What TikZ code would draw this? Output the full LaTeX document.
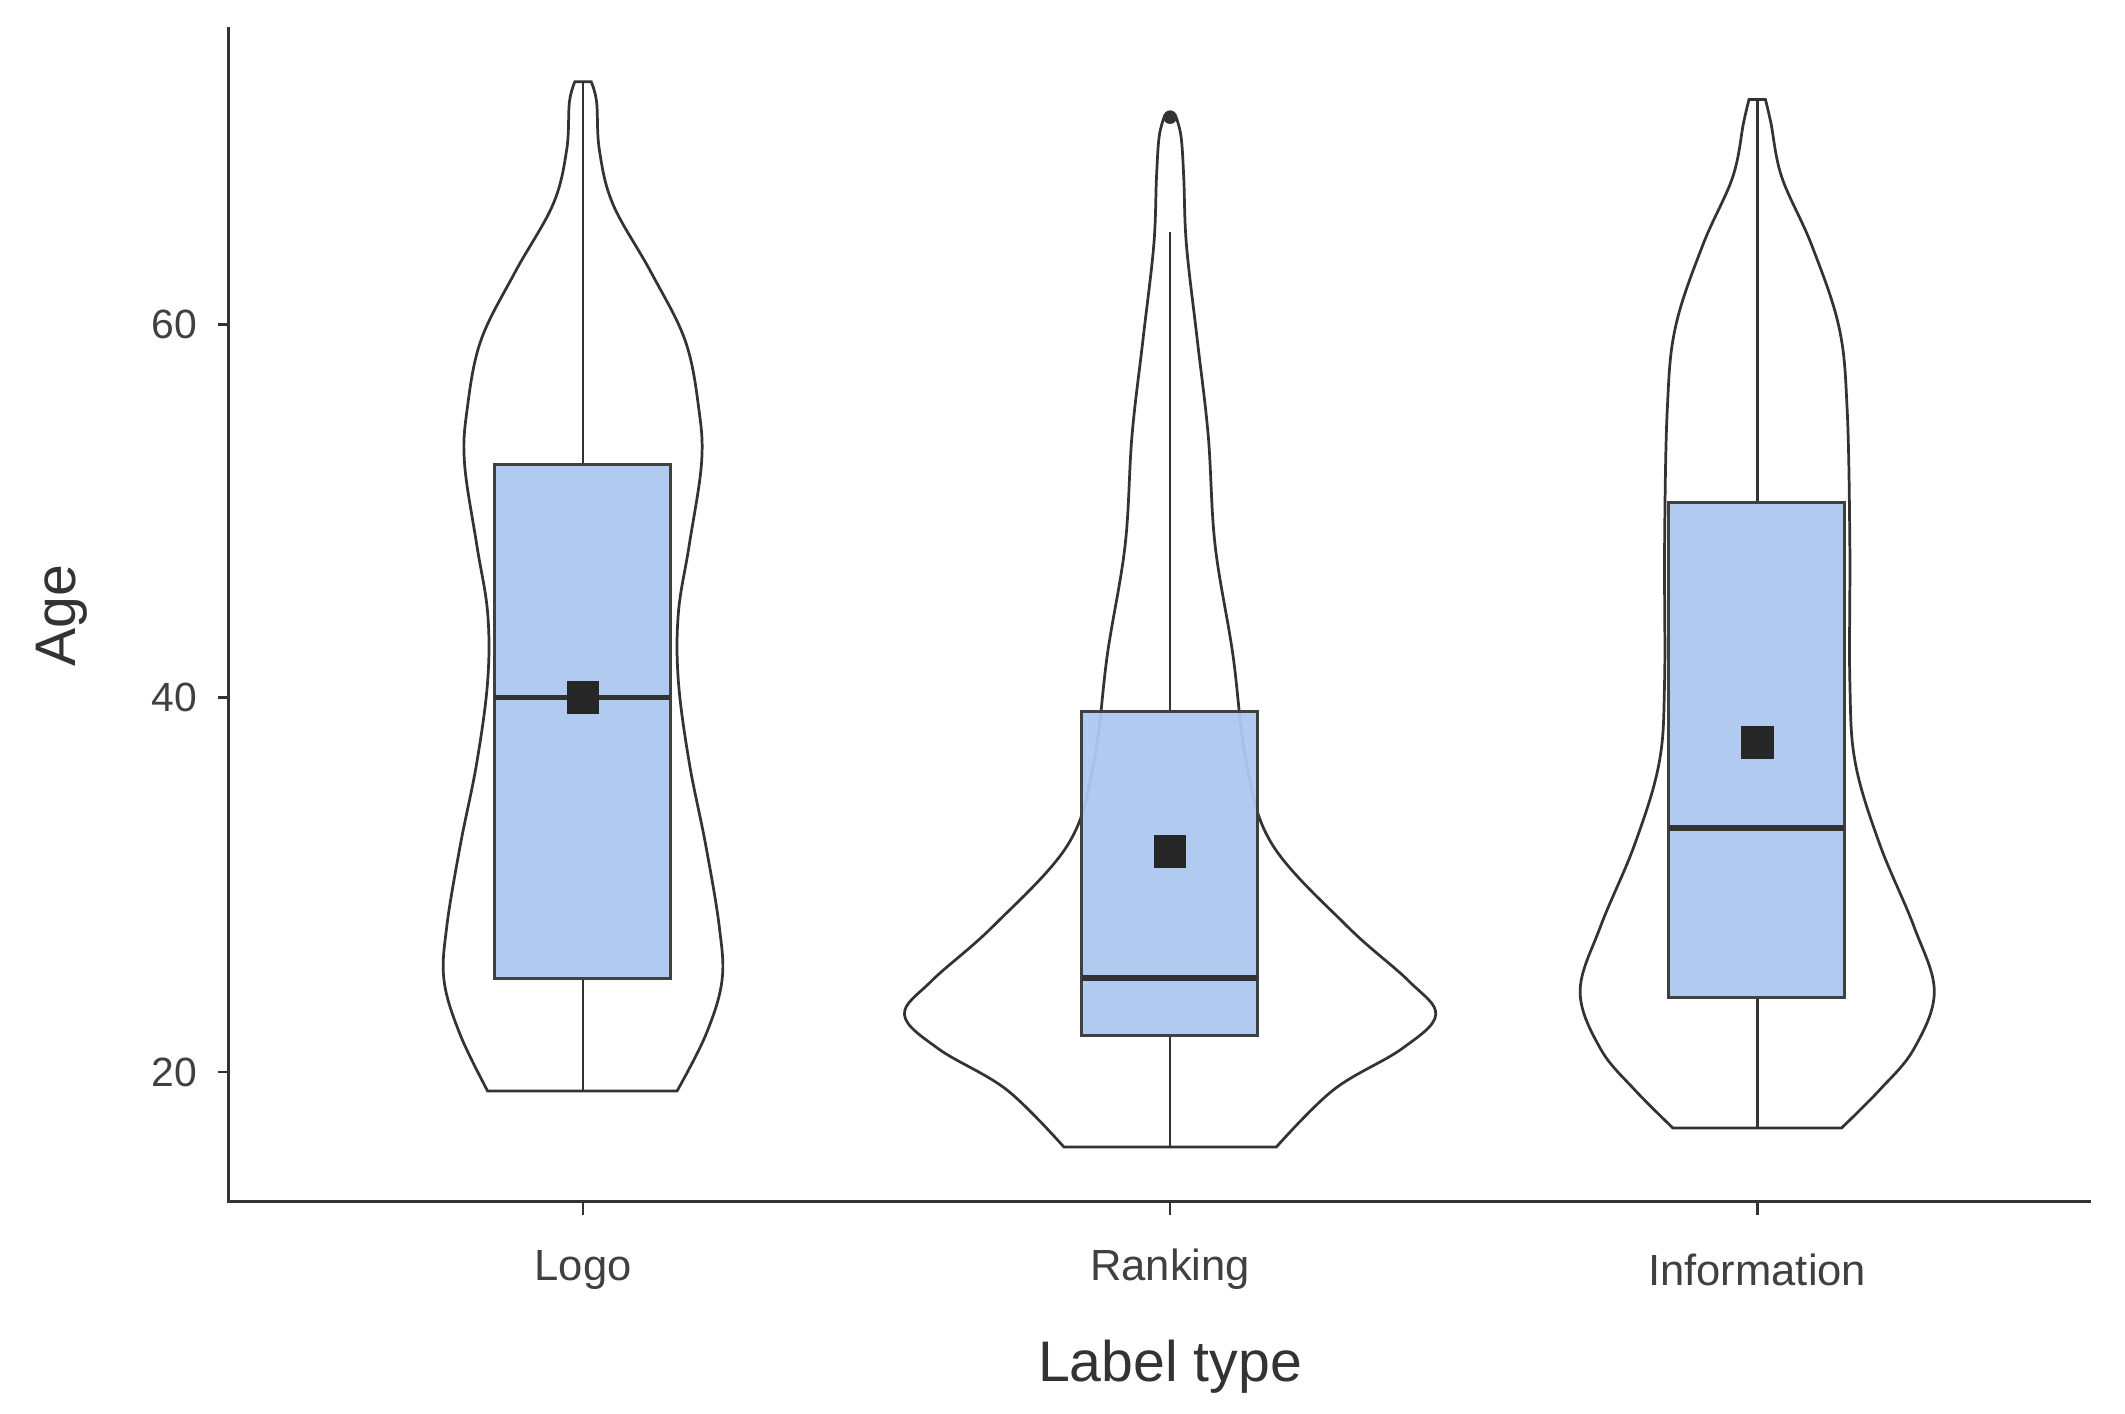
\documentclass[tikz,border=0pt]{standalone}
\usepackage{fontspec}
\setmainfont{Liberation Sans}
\begin{document}
\begin{tikzpicture}[x=0.5pt,y=-0.5pt,
  ln/.style={draw=black!80,line width=1pt},
  boxs/.style={draw=black!75,line width=1.1pt,fill=boxc,fill opacity=0.95},
  med/.style={draw=black!80,line width=2pt},
  tick/.style={font=\fontsize{15}{18}\selectfont,text=black!75},
  cat/.style={font=\fontsize{16}{19}\selectfont,text=black!75}]
\definecolor{boxc}{HTML}{ADC8F0}
\useasboundingbox (0,0) rectangle (1560,1038);
% axes
\draw[ln] (168,20) -- (168,882) -- (1535,882);
\foreach \y/\t in {238/60,512/40,787/20}{
  \draw[ln] (160,\y) -- (168,\y);
  \node[tick,anchor=east] (t\t) at (152,\y) {\t};}
\foreach \x/\t/\n in {428/Logo/a,859/Ranking/b,1290/Information/c}{
  \draw[ln] (\x,882) -- (\x,892);
  \node[cat] (l\n) at (\x,932) {\t};}
\node[font=\fontsize{21}{25}\selectfont,text=black!80] (xl) at (859,1003) {Label type};
\node[font=\fontsize{21}{25}\selectfont,text=black!80,rotate=90] (yl) at (45,452) {Age};
% violins
\newcommand\violin[2]{%
  \def\c{#1}%
  \draw[ln,fill=white] plot[smooth,tension=0.6] coordinates {#2};}
% Logo
\draw[ln,fill=white,smooth] plot[smooth,tension=0.6] coordinates {
(434,60)(438,75)(440,110)(450,150)(478,200)(503,250)(513,300)(515,340)(506,400)(498,450)(498,500)(506,560)(518,620)(528,680)(530,720)(518,760)(497,801)}
 -- (358,801) -- plot[smooth,tension=0.6] coordinates {
(358,801)(338,760)(326,720)(328,680)(338,620)(350,560)(358,500)(358,450)(350,400)(341,340)(343,300)(353,250)(378,200)(406,150)(416,110)(418,75)(422,60)} -- cycle;
% Ranking
\draw[ln,fill=white] plot[smooth,tension=0.6] coordinates {
(863,85)(867,100)(869,130)(871,180)(879,250)(887,320)(892,400)(905,480)(915,560)(934,620)(989,680)(1034,720)(1054,745)(1029,770)(979,800)(937,842)}
 -- (781,842) -- plot[smooth,tension=0.6] coordinates {
(781,842)(739,800)(689,770)(664,745)(684,720)(729,680)(784,620)(803,560)(813,480)(826,400)(831,320)(839,250)(847,180)(849,130)(851,100)(855,85)} -- cycle;
% Information
\draw[ln,fill=white] plot[smooth,tension=0.6] coordinates {
(1296,73)(1300,90)(1308,130)(1330,180)(1350,240)(1356,300)(1358,400)(1358,500)(1362,560)(1380,620)(1405,680)(1420,728)(1405,770)(1380,800)(1352,828)}
 -- (1228,828) -- plot[smooth,tension=0.6] coordinates {
(1228,828)(1200,800)(1175,770)(1160,728)(1175,680)(1200,620)(1218,560)(1222,500)(1222,400)(1224,300)(1230,240)(1250,180)(1272,130)(1280,90)(1284,73)} -- cycle;
% boxes
\foreach \x/\t/\q/\m/\h/\b/\u/\mean in {428/60/341/512/718/801/0/512, 859/170/522/718/760/842/0/625, 1290/73/369/608/732/828/0/545}{
  \draw[ln] (\x,\t) -- (\x,\q);
  \draw[ln] (\x,\h) -- (\x,\b);
  \draw[boxs] (\x-65,\q) rectangle (\x+64,\h);
  \draw[med] (\x-65,\m) -- (\x+64,\m);
  \fill[black!85] (\x-12,\mean-12) rectangle (\x+12,\mean+12);}
\fill[black!80] (859,86) circle (5);
\end{tikzpicture}
\end{document}
